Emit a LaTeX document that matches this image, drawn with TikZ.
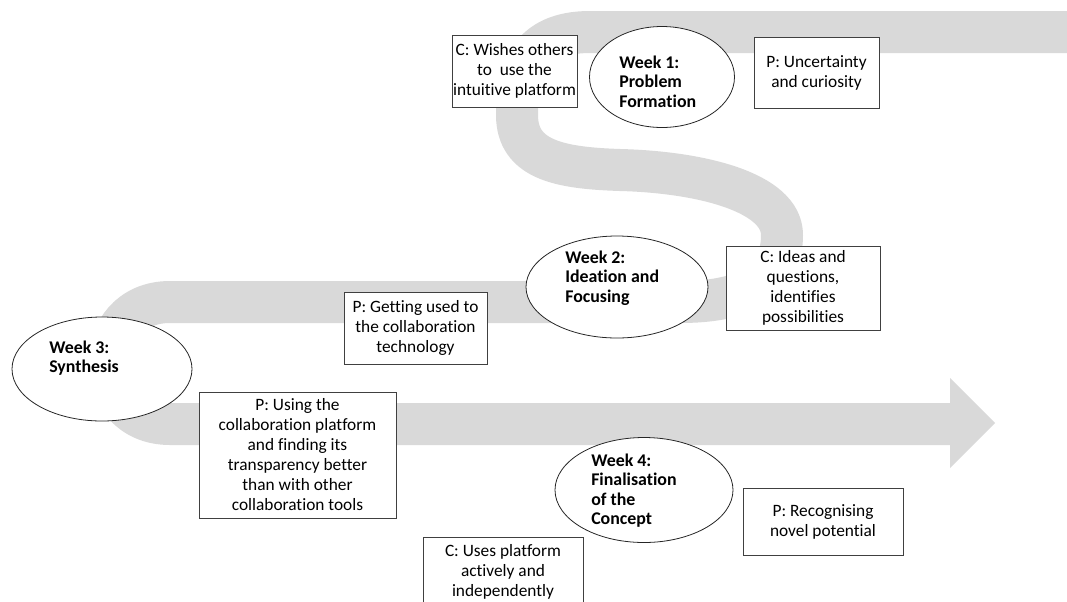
\documentclass[tikz,border=0pt]{standalone}
\usepackage{fontspec}
\setmainfont{Carlito}[Ligatures={NoCommon}]
\usetikzlibrary{shapes.geometric}
\definecolor{bandgray}{HTML}{D9D9D9}
\definecolor{rim}{HTML}{404040}

\begin{document}
\begin{tikzpicture}[x=0.75pt, y=-0.75pt,
    band/.style={draw=bandgray, line width=31.5pt, line join=round},
    week/.style={ellipse, draw=black!85, fill=white, line width=0.6pt, inner sep=0pt},
    note/.style={draw=rim, fill=white, line width=0.6pt, align=center, inner sep=0pt,
                 font=\fontsize{13pt}{15pt}\selectfont},
    weektext/.style={anchor=west, align=left, inner sep=0pt,
                 font=\fontsize{13.4pt}{14.6pt}\selectfont\bfseries}]

    \useasboundingbox (0,0) rectangle (1067,601);
    \clip (0,0) rectangle (1067,601);

    % ================= WINDING ROAD =================
    \draw[band] (1080,32) -- (590,32)
        .. controls (530,32) and (517,70) .. (517,115)
        .. controls (517,160) and (560,168) .. (620,170)
        .. controls (700,172) and (782,192) .. (782,235)
        .. controls (782,285) and (740,302) .. (680,302)
        -- (170,302)
        .. controls (89,302) and (89,424) .. (170,424)
        -- (951,424);
    \fill[bandgray] (950,378) -- (995,423) -- (950,468) -- cycle;

    % ================= WEEK 1 =================
    \node[week, minimum width=108.75pt, minimum height=75.75pt] (w1) at (662,77) {};
    \node[weektext] (w1t) at (619,81.5) {Week 1:\\Problem\\Formation};
    \node[note, minimum width=93.75pt, minimum height=54pt] (c1) at (514.5,71)
        {C: Wishes others\\to\ \ use the\\intuitive platform};
    \node[note, minimum width=93.75pt, minimum height=53.25pt] (p1) at (816.5,72.5)
        {P: Uncertainty\\and curiosity};

    % ================= WEEK 2 =================
    \node[week, minimum width=136.5pt, minimum height=76.5pt] (w2) at (617,287) {};
    \node[weektext] (w2t) at (565,278) {Week 2:\\Ideation and\\Focusing};
    \node[note, minimum width=115.5pt, minimum height=63pt] (c2) at (803,288)
        {C: Ideas and\\questions,\\identifies\\possibilities};
    \node[note, minimum width=107.25pt, minimum height=54pt] (p2) at (415.5,328)
        {P: Getting used to\\the collaboration\\technology};

    % ================= WEEK 3 =================
    \node[week, minimum width=135pt, minimum height=78pt] (w3) at (102,369) {};
    \node[weektext] (w3t) at (49,358) {Week 3:\\Synthesis};
    \node[note, minimum width=147.75pt, minimum height=94.5pt] (p3) at (297.5,455)
        {P: Using the\\collaboration platform\\and finding its\\transparency better\\than with other\\collaboration tools};

    % ================= WEEK 4 =================
    \node[week, minimum width=133.5pt, minimum height=78.75pt] (w4) at (644,490) {};
    \node[weektext] (w4t) at (591,490.5) {Week 4:\\Finalisation\\of the\\Concept};
    \node[note, minimum width=120pt, minimum height=52.5pt] (c3) at (503,572)
        {C: Uses platform\\actively and\\independently};
    \node[note, minimum width=120pt, minimum height=50.25pt] (p4) at (823,521.5)
        {P: Recognising\\novel potential};

\end{tikzpicture}
\end{document}
